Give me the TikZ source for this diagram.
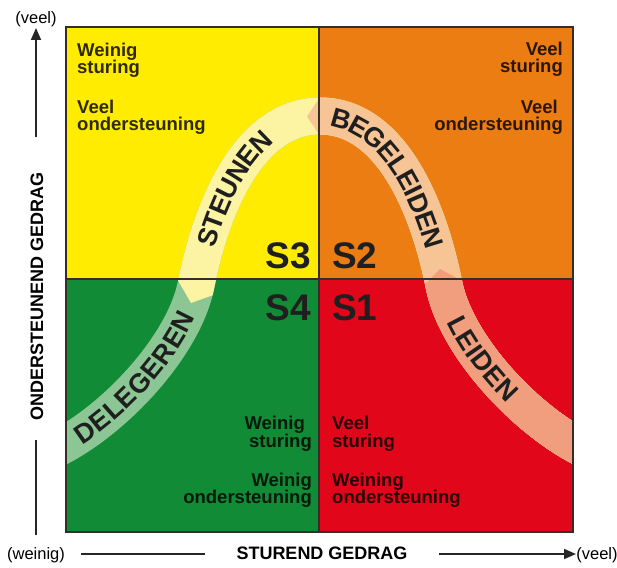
\documentclass[tikz,border=0pt]{standalone}
\usepackage{fontspec}
\setmainfont{Liberation Sans}
\usetikzlibrary{decorations.text,arrows.meta}
\definecolor{qyel}{RGB}{255,236,0}
\definecolor{qora}{RGB}{236,125,19}
\definecolor{qgre}{RGB}{17,139,53}
\definecolor{qred}{RGB}{226,6,26}
\definecolor{bgre}{RGB}{140,198,148}
\definecolor{byel}{RGB}{252,244,162}
\definecolor{bpea}{RGB}{247,196,150}
\definecolor{bsal}{RGB}{240,158,126}
\definecolor{edge}{RGB}{55,45,40}
\newcommand\bandfont{\fontsize{27}{27}\selectfont\bfseries\color{black!88}}
\begin{document}
\begin{tikzpicture}[x=1pt,y=-1pt,
  band/.style={line width=37pt},
  qtext/.style={inner sep=0pt,font=\fontsize{18.5}{17}\selectfont\bfseries,text=black,text opacity=0.82},
  slabel/.style={inner sep=0pt,font=\fontsize{37}{37}\selectfont\bfseries,text=black!88},
  axlab/.style={inner sep=0pt,font=\fontsize{16.5}{17}\selectfont},
  axtitle/.style={inner sep=0pt,font=\fontsize{18}{18}\selectfont\bfseries},
  axline/.style={line width=1.8pt,black!85},
  bandtext/.style={decorate,decoration={text along path,text={|\bandfont|#1},raise=-9.5pt}}
]
\useasboundingbox (0,0) rectangle (617,567);
% quadrants
\fill[qyel] (66,27) rectangle (319,279);
\fill[qora] (319,27) rectangle (573,279);
\fill[qgre] (66,279) rectangle (319,532);
\fill[qred] (319,279) rectangle (573,532);
% curve points
\coordinate (c0) at (56,449);
\coordinate (c1) at (116,419);
\coordinate (c2) at (184,345);
\coordinate (c3) at (196,285);
\coordinate (c4) at (213,200);
\coordinate (c5) at (252,116);
\coordinate (c6) at (320,116);
\coordinate (c7) at (388,116);
\coordinate (c8) at (427,200);
\coordinate (c9) at (444,285);
\coordinate (c10) at (456,345);
\coordinate (c11) at (524,419);
\coordinate (c12) at (584,449);
\begin{scope}
\clip (66,27) rectangle (573,532);
\draw[band,bgre] (c0) .. controls (c1) and (c2) .. (c3) .. controls (c4) and (c5) .. (c6) .. controls (c7) and (c8) .. (c9) .. controls (c10) and (c11) .. (c12);
\begin{scope}
\clip (191,303) -- (160,249) -- (160,-10) -- (630,-10) -- (630,600) -- (249.5,600) -- (249.5,282) -- cycle;
\draw[band,byel] (c0) .. controls (c1) and (c2) .. (c3) .. controls (c4) and (c5) .. (c6) .. controls (c7) and (c8) .. (c9) .. controls (c10) and (c11) .. (c12);
\end{scope}
\begin{scope}
\clip (307,116.5) -- (339.5,68) -- (339.5,-10) -- (630,-10) -- (630,600) -- (339.5,600) -- (339.5,165) -- cycle;
\draw[band,bpea] (c0) .. controls (c1) and (c2) .. (c3) .. controls (c4) and (c5) .. (c6) .. controls (c7) and (c8) .. (c9) .. controls (c10) and (c11) .. (c12);
\end{scope}
\begin{scope}
\clip (440,269) -- (492,297) -- (630,297) -- (630,600) -- (398,600) -- (398,311) -- cycle;
\draw[band,bsal] (c0) .. controls (c1) and (c2) .. (c3) .. controls (c4) and (c5) .. (c6) .. controls (c7) and (c8) .. (c9) .. controls (c10) and (c11) .. (c12);
\end{scope}
\end{scope}
% band texts
\path[bandtext=DELEGEREN,decoration={text align={left indent=24pt}}] (c0) .. controls (c1) and (c2) .. (c3);
\path[bandtext=STEUNEN,decoration={text align={left indent=40pt}}] (c3) .. controls (c4) and (c5) .. (c6);
\path[bandtext=BEGELEIDEN,decoration={text align={left indent=12pt}}] (c6) .. controls (c7) and (c8) .. (c9);
\path[bandtext=LEIDEN,decoration={text align={left indent=35pt}}] (c9) .. controls (c10) and (c11) .. (c12);
% border and dividers
\draw[edge,line width=1.3pt] (66,27) rectangle (573,532);
\draw[edge,line width=1.3pt] (319,27) -- (319,532);
\draw[edge,line width=1.3pt] (66,279) -- (573,279);
% quadrant texts
\node[qtext,anchor=base west] (tl1) at (77,57) {Weinig};
\node[qtext,anchor=base west] (tl2) at (77,74) {sturing};
\node[qtext,anchor=base west] (tl3) at (77,113) {Veel};
\node[qtext,anchor=base west] (tl4) at (77,130) {ondersteuning};
\node[qtext,anchor=base east] (tr1) at (563,56) {Veel};
\node[qtext,anchor=base east] (tr2) at (563,73) {sturing};
\node[qtext,anchor=base east] (tr3) at (558,113) {Veel};
\node[qtext,anchor=base east] (tr4) at (563,130) {ondersteuning};
\node[qtext,anchor=base east] (bl1) at (305,429) {Weinig};
\node[qtext,anchor=base east] (bl2) at (312,447) {sturing};
\node[qtext,anchor=base east] (bl3) at (312,486) {Weinig};
\node[qtext,anchor=base east] (bl4) at (312,503) {ondersteuning};
\node[qtext,anchor=base west] (br1) at (332,429) {Veel};
\node[qtext,anchor=base west] (br2) at (332,447) {sturing};
\node[qtext,anchor=base west] (br3) at (332,486) {Weining};
\node[qtext,anchor=base west] (br4) at (332,503) {ondersteuning};
% S labels
\node[slabel,anchor=base east] (s3) at (311,268) {S3};
\node[slabel,anchor=base west] (s2) at (332,268) {S2};
\node[slabel,anchor=base east] (s4) at (311,320) {S4};
\node[slabel,anchor=base west] (s1) at (332,320) {S1};
% vertical axis
\node[axlab,anchor=base] (vveel) at (36,24) {(veel)};
\coordinate (va) at (36,137);
\coordinate (vb) at (36,28);
\draw[axline,-{Triangle[width=10pt,length=12pt]}] (va) -- (vb);
\node[axtitle,rotate=90] (vtitle) at (37,296) {ONDERSTEUNEND GEDRAG};
\coordinate (vc) at (36,440);
\coordinate (vd) at (36,535);
\draw[axline] (vc) -- (vd);
% horizontal axis
\node[axlab,anchor=base] (hweinig) at (36,559) {(weinig)};
\node[axtitle,anchor=base] (htitle) at (322,559) {STUREND GEDRAG};
\node[axlab,anchor=base] (hveel) at (597,559) {(veel)};
\coordinate (ha) at (81,554);
\coordinate (hb) at (205,554);
\coordinate (hc) at (439,554);
\coordinate (hd) at (576,554);
\draw[axline] (ha) -- (hb);
\draw[axline,-{Triangle[width=10pt,length=12pt]}] (hc) -- (hd);
\end{tikzpicture}
\end{document}
